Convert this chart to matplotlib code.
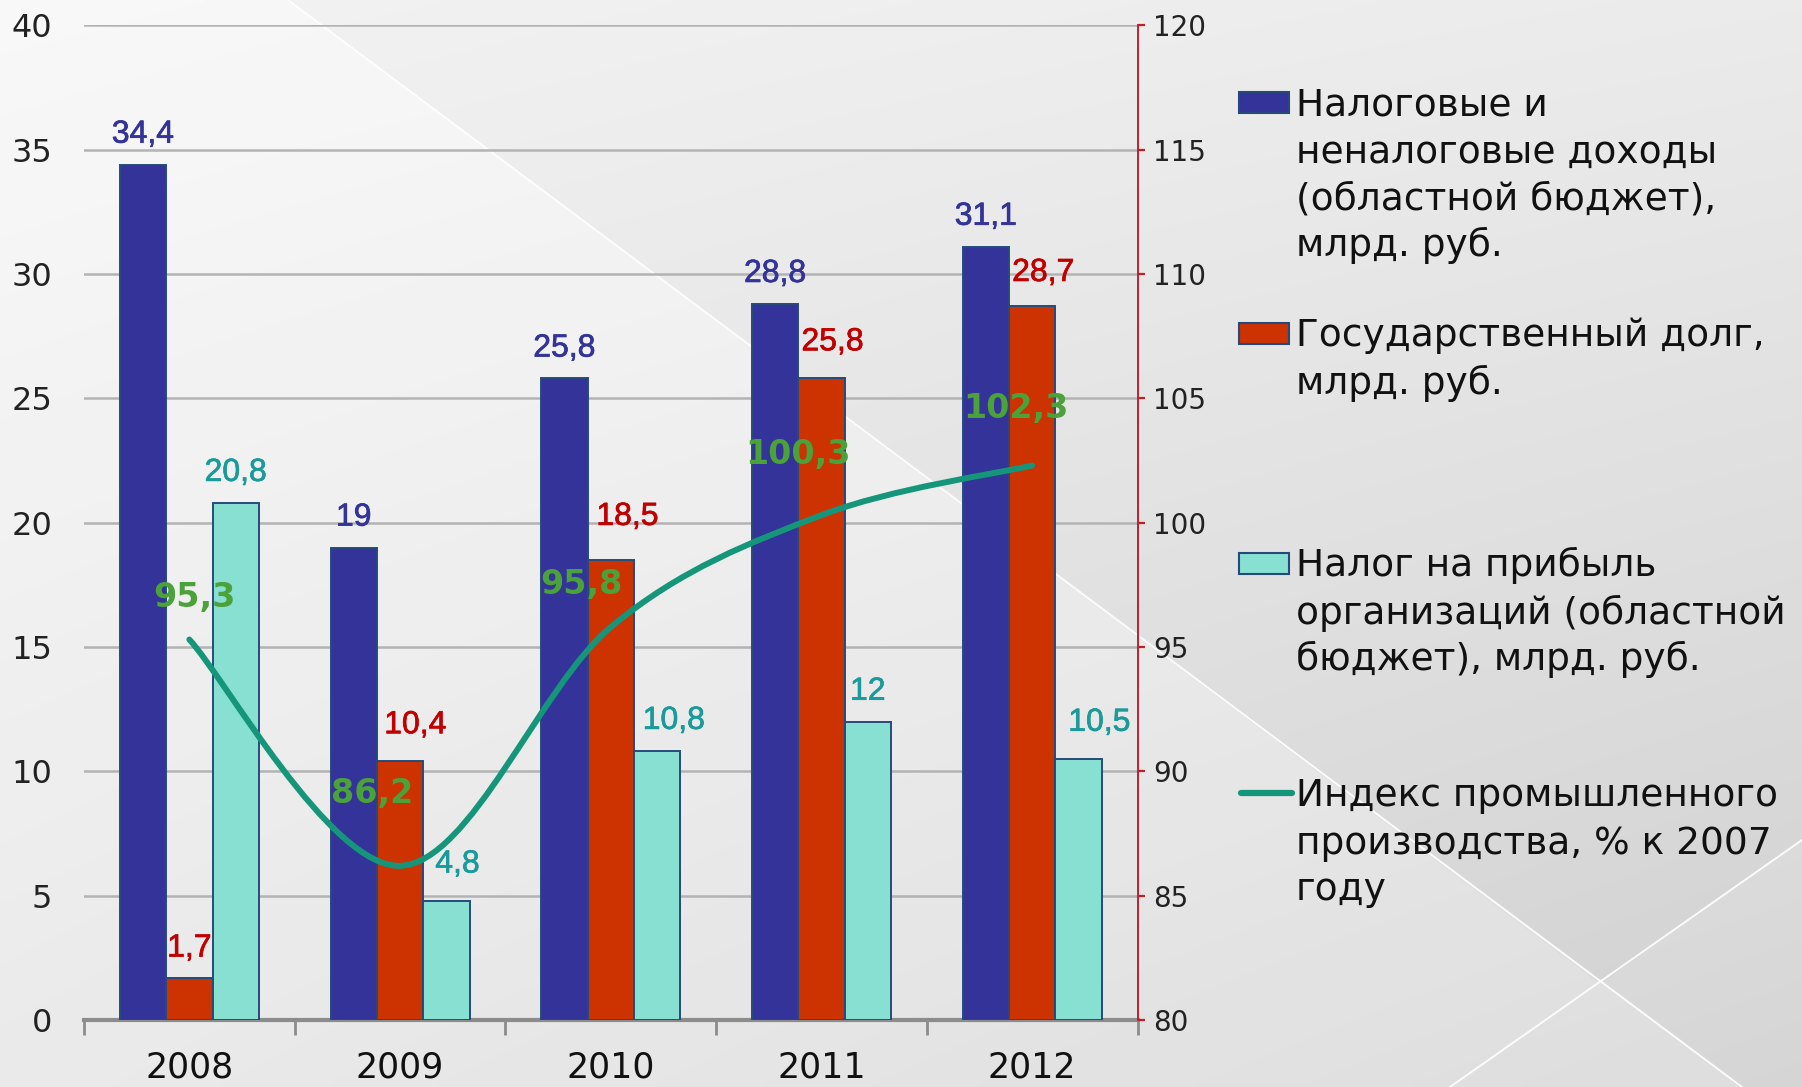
import numpy as np
import matplotlib
matplotlib.use("Agg")
import matplotlib.pyplot as plt
import matplotlib.patheffects as pe
from matplotlib.path import Path
from matplotlib.patches import PathPatch, Rectangle, Polygon
from matplotlib.lines import Line2D

# ---------------- data ----------------
years = ["2008", "2009", "2010", "2011", "2012"]
tax_income = [34.4, 19.0, 25.8, 28.8, 31.1]
state_debt = [1.7, 10.4, 18.5, 25.8, 28.7]
profit_tax = [20.8, 4.8, 10.8, 12.0, 10.5]
prod_index = [95.3, 86.2, 95.8, 100.3, 102.3]

legend_labels = [
    ["Налоговые и", "неналоговые доходы", "(областной бюджет),", "млрд. руб."],
    ["Государственный долг,", "млрд. руб."],
    ["Налог на прибыль", "организаций (областной", "бюджет), млрд. руб."],
    ["Индекс промышленного", "производства, % к 2007", "году"],
]

# ---------------- styles / label placement (points) ----------------
C_BLUE, C_RED, C_CYAN = "#333399", "#CC3300", "#87E0D2"
C_EDGE = "#254A7A"
L_BLUE, L_RED, L_CYAN, L_GREEN = "#333399", "#C00000", "#1A9A9A", "#4BA23A"
C_LINE = "#15967A"
C_AXIS_R = "#C0202A"

blue_off = [(0, 21.5)] * 5
red_off = [(0, 21), (11, 26), (12, 31), (8, 26), (8, 24)]
cyan_off = [(0, 21.5), (8, 26), (12, 22), (0, 21.5), (15, 26)]
green_off = [(4, 30), (-20, 52), (-21, 31), (-17, 44), (-12, 41)]

W, H = 1802, 1087
fig = plt.figure(figsize=(W / 100, H / 100), dpi=100)

# ---------------- background ----------------
bg = fig.add_axes([0, 0, 1, 1], zorder=-10)
gx, gy = np.meshgrid(np.linspace(0, 1, 300), np.linspace(0, 1, 200))
val = 0.972 - 0.03 * gx - 0.07 * gy - 0.035 * gx * gy
bg.imshow(np.dstack([val, val, val]), extent=[0, W, H, 0], aspect="auto",
          interpolation="bilinear")
bg.set_xlim(0, W)
bg.set_ylim(H, 0)
bg.axis("off")
bg.add_patch(Polygon([(0, 0), (288, 0), (1742, H), (0, H)], closed=True,
                     facecolor="white", alpha=0.2, edgecolor="none"))
bg.add_patch(Polygon([(288, 0), (W, 0), (W, 840), (1600, 984)], closed=True,
                     facecolor="black", alpha=0.02, edgecolor="none"))
bg.plot([288, 1742], [0, H], color="white", lw=1.4, alpha=0.9)
bg.plot([1450, W], [H, 840], color="white", lw=1.4, alpha=0.9)

# ---------------- main axes ----------------
ax = fig.add_axes([84 / W, 1 - 1020 / H, (1137.5 - 84) / W, (1020 - 25.3) / H])
ax.patch.set_alpha(0)
x = np.arange(len(years))
bw = 0.22


def fmt(v):
    s = f"{v:.1f}"
    if s.endswith(".0"):
        s = s[:-2]
    return s.replace(".", ",")


series = [(tax_income, -bw, C_BLUE, L_BLUE, blue_off),
          (state_debt, 0.0, C_RED, L_RED, red_off),
          (profit_tax, bw, C_CYAN, L_CYAN, cyan_off)]
for vals, off, fc, lc, offs in series:
    bars = ax.bar(x + off, vals, width=bw, color=fc, edgecolor=C_EDGE,
                  linewidth=1.4, zorder=3)
    for b, v, (dx, dy) in zip(bars, vals, offs):
        ax.annotate(fmt(v), (b.get_x() + b.get_width() / 2, b.get_height()),
                    xytext=(dx, dy), textcoords="offset points",
                    ha="center", va="center", fontsize=23,
                    family="Liberation Sans", color=lc, zorder=5,
                    path_effects=[pe.withStroke(linewidth=0.5, foreground=lc)])

ax.set_xlim(-0.5, len(years) - 0.5)
ax.set_ylim(0, 40)
ax.set_yticks(np.arange(0, 41, 5))
ax.yaxis.grid(True, color="#B3B3B3", lw=1.8)
ax.set_axisbelow(True)
for s in ["left", "top", "right"]:
    ax.spines[s].set_visible(False)
ax.spines["bottom"].set_color("#8C8C8C")
ax.spines["bottom"].set_linewidth(3)
ax.set_xticks(x)
ax.set_xticklabels(years)
ax.set_xticks(np.arange(-0.5, len(years), 1), minor=True)
ax.tick_params(axis="x", which="major", length=0, pad=22, labelsize=25,
               labelcolor="#111111")
ax.tick_params(axis="x", which="minor", length=11, width=2, color="#8C8C8C",
               direction="out")
ax.tick_params(axis="y", length=0, pad=23, labelsize=23, labelcolor="#222222")

# ---------------- secondary axis ----------------
ax2 = ax.twinx()
ax2.set_ylim(80, 120)
ax2.set_yticks(np.arange(80, 121, 5))
for s in ["left", "top", "bottom"]:
    ax2.spines[s].set_visible(False)
ax2.spines["right"].set_color(C_AXIS_R)
ax2.spines["right"].set_linewidth(1.4)
ax2.tick_params(axis="y", length=5, width=1.6, color=C_AXIS_R, pad=6,
                labelsize=20, labelcolor="#222222")

# smoothed line (Bezier through the data points)
pts = np.column_stack([x, prod_index]).astype(float)
n = len(pts)
verts = [pts[0]]
codes = [Path.MOVETO]
for i in range(n - 1):
    pm = pts[i - 1] if i > 0 else pts[i]
    pn = pts[i + 2] if i + 2 < n else pts[i + 1]
    c1 = pts[i] + (pts[i + 1] - pm) / 6
    c2 = pts[i + 1] - (pn - pts[i]) / 6
    verts += [c1, c2, pts[i + 1]]
    codes += [Path.CURVE4] * 3
ax2.add_patch(PathPatch(Path(verts, codes), fill=False, edgecolor=C_LINE,
                        lw=4.3, capstyle="round", joinstyle="round", zorder=4))

for xi, v, (dx, dy) in zip(x, prod_index, green_off):
    ax2.annotate(fmt(v), (xi, v), xytext=(dx, dy), textcoords="offset points",
                 ha="center", va="center", fontsize=24, fontweight="bold",
                 family="DejaVu Sans", color=L_GREEN, zorder=6)

# ---------------- legend (drawn manually) ----------------
entry_y = [102, 333, 563, 793]
line_h = 47
text_x = 1296
fills = [C_BLUE, C_RED, C_CYAN]
for k, (lines, yc) in enumerate(zip(legend_labels, entry_y)):
    if k < 3:
        bg.add_patch(Rectangle((1239, yc - 10.5), 50, 21, facecolor=fills[k],
                               edgecolor=C_EDGE, lw=1.5))
    else:
        bg.add_line(Line2D([1241, 1292], [yc, yc], color=C_LINE, lw=4.5,
                           solid_capstyle="round"))
    for j, t in enumerate(lines):
        bg.text(text_x, yc + j * line_h + 13.5, t, fontsize=27,
                family="DejaVu Sans", color="#111111", ha="left",
                va="baseline")

fig.savefig("out.png", dpi=100)
